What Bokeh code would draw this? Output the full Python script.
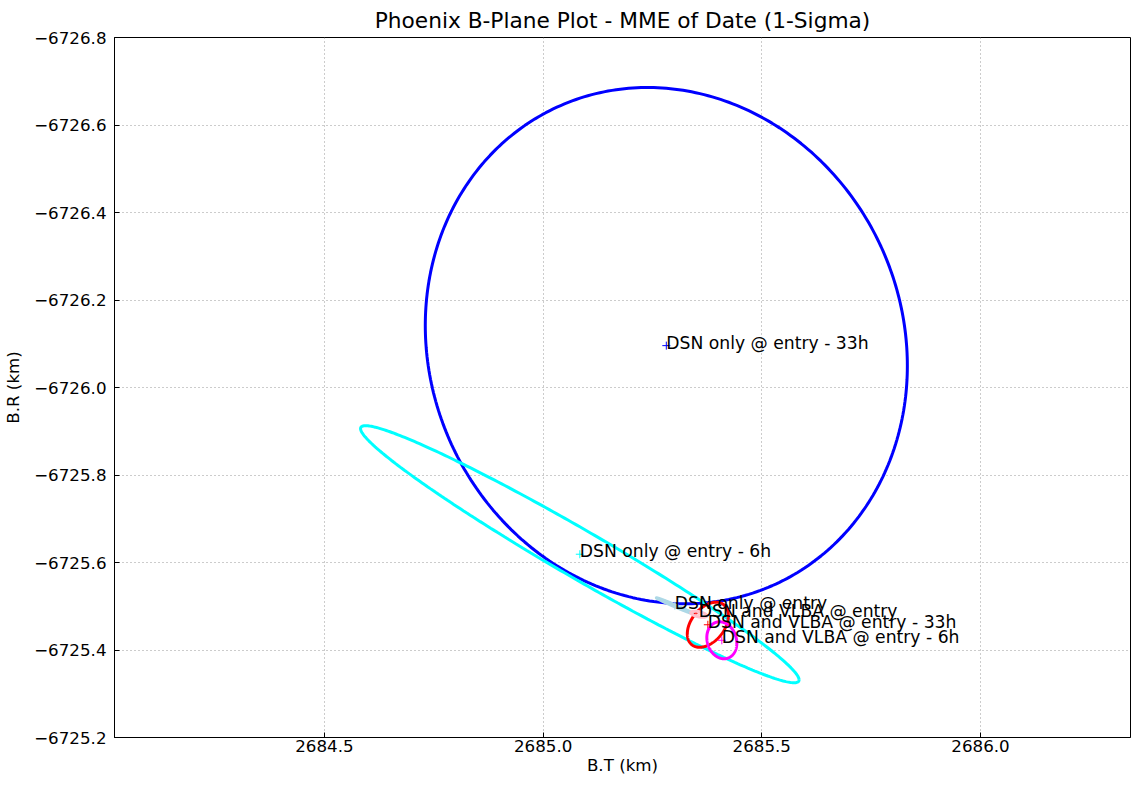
import numpy as np
from bokeh.plotting import figure
from bokeh.models import Range1d, FixedTicker, CustomJSTickFormatter, ColumnDataSource
from bokeh.core.properties import value
from bokeh.embed import file_html
from bokeh.resources import INLINE

# --- data ---
names = ["DSN only @ entry - 33h", "DSN only @ entry - 6h", "DSN only @ entry",
         "DSN and VLBA @ entry - 33h", "DSN and VLBA @ entry - 6h", "DSN and VLBA @ entry"]
center_bt = [2685.2817, 2685.0839, 2685.3012, 2685.3766, 2685.4086, 2685.3560]
center_br = [-6726.0957, -6725.6189, -6725.5011, -6725.4577, -6725.4222, -6725.4817]
sigma_bt = [0.5511, 0.5013, 0.0423, 0.0469, 0.0343, 0.0183]
sigma_br = [0.5900, 0.2938, 0.0183, 0.0515, 0.0423, 0.0069]
corr = [0.078, 0.977, 0.99, -0.40, 0.15, 0.5]
colors = ["#0000ff", "#00ffff", "#add8e6", "#ff0000", "#ff00ff", "#ffc0cb"]

x_ticks = [2684.5, 2685.0, 2685.5, 2686.0]
y_ticks = [-6726.8, -6726.6, -6726.4, -6726.2, -6726.0, -6725.8, -6725.6, -6725.4, -6725.2]

FONT = "DejaVu Sans"
FS = "16.7px"

p = figure(frame_width=1016, frame_height=700, output_backend="svg", toolbar_location=None,
           x_range=Range1d(2684.020, 2686.343), y_range=Range1d(-6725.2, -6726.8),
           min_border_left=108, min_border_right=1, min_border_top=32, min_border_bottom=30)
p.background_fill_color = "white"
p.border_fill_color = "white"
p.outline_line_color = "black"
p.outline_line_width = 1

p.title.text = "Phoenix B-Plane Plot - MME of Date (1-Sigma)"
p.title.align = "center"
p.title.offset = -4
p.title.text_font = FONT
p.title.text_font_size = "21.7px"
p.title.text_font_style = "normal"
p.title.text_color = "black"

fmt = CustomJSTickFormatter(code="return tick.toFixed(1).replace('-', '\u2212');")

for ax in p.xaxis:
    ax.ticker = FixedTicker(ticks=x_ticks)
    ax.formatter = fmt
    ax.axis_label = "B.T (km)"
    ax.major_label_standoff = 2
    ax.axis_label_standoff = 0
for ax in p.yaxis:
    ax.ticker = FixedTicker(ticks=y_ticks)
    ax.formatter = fmt
    ax.axis_label = "B.R (km)"
    ax.major_label_standoff = 8
    ax.axis_label_standoff = 8

for ax in list(p.xaxis) + list(p.yaxis):
    ax.major_tick_in = 5
    ax.major_tick_out = 0
    ax.minor_tick_line_color = None
    ax.major_label_text_font = FONT
    ax.major_label_text_font_size = FS
    ax.major_label_text_color = "black"
    ax.axis_label_text_font = FONT
    ax.axis_label_text_font_size = FS
    ax.axis_label_text_font_style = "normal"
    ax.axis_label_text_color = "black"
    ax.axis_line_color = "black"
    ax.major_tick_line_color = "black"

p.grid.grid_line_color = "#999999"
p.grid.grid_line_dash = "1 3"
p.grid.grid_line_width = 1
p.xgrid.ticker = FixedTicker(ticks=x_ticks)
p.ygrid.ticker = FixedTicker(ticks=y_ticks)

# 1-sigma ellipses from centre, sigmas and correlation
t = np.linspace(0, 2 * np.pi, 361)
for cx, cy, sx, sy, r, c in zip(center_bt, center_br, sigma_bt, sigma_br, corr, colors):
    xs = cx + sx * np.cos(t)
    ys = cy + sy * (r * np.cos(t) + np.sqrt(1 - r * r) * np.sin(t))
    p.line(xs, ys, line_color=c, line_width=3)
    p.scatter([cx], [cy], marker="cross", size=8, line_color=c, line_width=1)

src = ColumnDataSource(dict(x=center_bt, y=center_br, txt=names))
p.text(x="x", y="y", text="txt", source=src, text_font=value(FONT), text_font_size="17.2px",
       text_color="black", text_align="left", text_baseline="alphabetic", y_offset=-3)

open("out.html", "w").write(file_html(p, INLINE))
